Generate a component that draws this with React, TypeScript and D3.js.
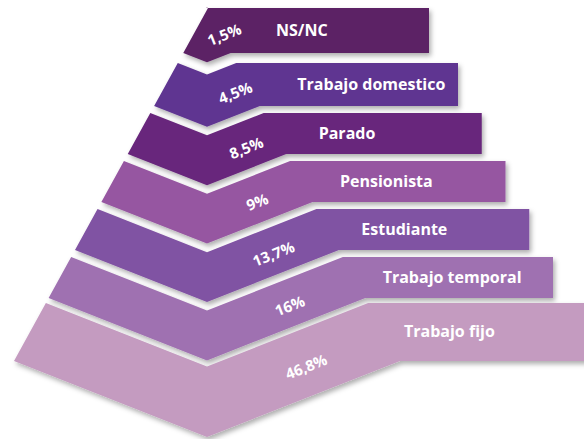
import React from "react";
import * as d3 from "d3";

// data
const categories = ["NS/NC", "Trabajo domestico", "Parado", "Pensionista", "Estudiante", "Trabajo temporal", "Trabajo fijo"];
const values = [1.5, 4.5, 8.5, 9, 13.7, 16, 46.8];
const colors = ["#5b2265", "#5f3591", "#67267b", "#9657a1", "#8052a3", "#9f71b1", "#c49bc0"];

const W = 584;
const H = 439;

// spanish number format, decimal comma
const esFormat = d3.formatLocale({ decimal: ",", thousands: ".", grouping: [3], currency: ["", "€"] }).format("~r");
const pct = (v: number) => esFormat(v) + "%";

export default function App() {
  const idx = categories.map((_, i) => i);

  // band layout (top / bottom of each layer) by layer index
  const yTop = d3.scaleLinear().domain([0, 1, 2, 5, 6]).range([8, 63, 113, 257, 303]);
  const yBot = d3.scaleLinear().domain([0, 1, 5, 6]).range([53, 106, 298, 361]);
  const xRight = d3.scaleLinear().domain([0, 1, 5, 6]).range([429, 458, 553, 600]);
  // slanted left outline of the pyramid
  const leftEdge = d3.scaleLinear().domain([8, 361]).range([208, 14]);
  const labelX = d3.scaleLinear().domain([0, 6]).range([276, 404]);
  const pctX = d3.scaleLinear().domain([0, 3, 6]).range([224, 257, 306]);

  const cx = 207;
  const k = 0.394; // slope of the chevron arms
  const angle = (-Math.atan(k) * 180) / Math.PI;

  const layers = idx.map((i) => {
    const t = yTop(i);
    const b = yBot(i);
    const xlT = leftEdge(t);
    const xlB = leftEdge(b);
    const joinT = 2 * cx - xlT;
    const joinB = 2 * cx - xlB;
    const p = d3.path();
    p.moveTo(xlT, t);
    p.lineTo(cx, t + (cx - xlT) * k);
    p.lineTo(joinT, t);
    p.lineTo(xRight(i), t);
    p.lineTo(xRight(i), b);
    p.lineTo(joinB, b);
    p.lineTo(cx, b + (cx - xlB) * k);
    p.lineTo(xlB, b);
    p.closePath();

    const px = pctX(i);
    const armT = t + Math.max(0, joinT - px) * k;
    const armB = b + Math.max(0, joinB - px) * k;
    const py = armT + 0.55 * (armB - armT);

    return { i, d: p.toString(), t, b, px, py };
  });

  return (
    <svg width={W} height={H} style={{ position: "absolute", left: 0, top: 0, background: "#fff" }}>
      <defs>
        <filter id="shadow" x="-10%" y="-10%" width="130%" height="140%">
          <feDropShadow dx="2" dy="3" stdDeviation="2.5" floodColor="#000" floodOpacity="0.32" />
        </filter>
      </defs>
      {layers.map((l) => (
        <g key={categories[l.i]}>
          <path d={l.d} fill={colors[l.i]} filter="url(#shadow)" />
          <text
            x={labelX(l.i)}
            y={(l.t + l.b) / 2 - 1}
            dominantBaseline="central"
            fill="#fff"
            fontFamily="'Open Sans', sans-serif"
            fontWeight={700}
            fontSize={16}
          >
            {categories[l.i]}
          </text>
          <text
            transform={`translate(${l.px},${l.py}) rotate(${angle})`}
            textAnchor="middle"
            dominantBaseline="central"
            fill="#fff"
            fontFamily="'Open Sans', sans-serif"
            fontWeight={700}
            fontSize={15}
          >
            {pct(values[l.i])}
          </text>
        </g>
      ))}
    </svg>
  );
}
